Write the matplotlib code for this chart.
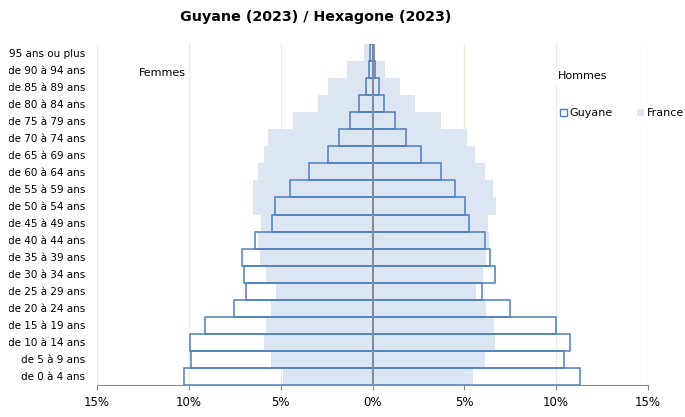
import matplotlib
matplotlib.use("Agg")
import matplotlib.pyplot as plt
from matplotlib.patches import Patch, Rectangle
import numpy as np

categories = ["de 0 à 4 ans", "de 5 à 9 ans", "de 10 à 14 ans", "de 15 à 19 ans",
              "de 20 à 24 ans", "de 25 à 29 ans", "de 30 à 34 ans", "de 35 à 39 ans",
              "de 40 à 44 ans", "de 45 à 49 ans", "de 50 à 54 ans", "de 55 à 59 ans",
              "de 60 à 64 ans", "de 65 à 69 ans", "de 70 à 74 ans", "de 75 à 79 ans",
              "de 80 à 84 ans", "de 85 à 89 ans", "de 90 à 94 ans", "95 ans ou plus"]

guyane_femmes = [10.27, 9.87, 9.91, 9.13, 7.55, 6.88, 7.02, 7.11, 6.42, 5.46,
                 5.30, 4.50, 3.45, 2.43, 1.82, 1.20, 0.73, 0.36, 0.17, 0.15]
france_femmes = [4.88, 5.50, 5.91, 5.82, 5.50, 5.28, 5.82, 6.10, 6.24, 6.06,
                 6.48, 6.48, 6.21, 5.91, 5.68, 4.32, 2.99, 2.41, 1.41, 0.47]
guyane_hommes = [11.30, 10.45, 10.76, 9.98, 7.48, 5.98, 6.65, 6.38, 6.10, 5.25,
                 5.04, 4.47, 3.73, 2.63, 1.85, 1.20, 0.63, 0.33, 0.11, 0.07]
france_hommes = [5.49, 6.14, 6.67, 6.63, 6.18, 5.63, 6.01, 6.16, 6.36, 6.30,
                 6.74, 6.58, 6.14, 5.56, 5.16, 3.75, 2.30, 1.50, 0.67, 0.15]

xticks = [-15, -10, -5, 0, 5, 10, 15]
xticklabels = ["15%", "10%", "5%", "0%", "5%", "10%", "15%"]

W, H = 685, 417
fig = plt.figure(figsize=(W/100, H/100), dpi=100)
ax = fig.add_axes([97/W, 1 - 385/H, (648-97)/W, (385-44)/H])

y = np.arange(len(categories))
france_col = "#DCE6F2"
guy_col = "#4F7EC0"
grid_col = "#EDEAE0"

for xv in [-15, -10, -5, 5, 10, 15]:
    ax.axvline(xv, color=grid_col, lw=1, zorder=0)

ax.barh(y, [-v for v in france_femmes], height=1.0, color=france_col, lw=0, zorder=1)
ax.barh(y, france_hommes, height=1.0, color=france_col, lw=0, zorder=1)
ax.barh(y, [-v for v in guyane_femmes], height=1.0, facecolor="none",
        edgecolor=guy_col, lw=1.1, zorder=2)
ax.barh(y, guyane_hommes, height=1.0, facecolor="none",
        edgecolor=guy_col, lw=1.1, zorder=2)

ax.axvline(0, color="#8C8C8C", lw=1.2, zorder=3)

ax.set_xlim(-15, 15)
ax.set_ylim(-0.5, len(categories) - 0.5)
ax.set_xticks(xticks)
ax.set_xticklabels(xticklabels, fontsize=8.5)
ax.set_yticks(y)
ax.set_yticklabels(categories, fontsize=7.5)
ax.tick_params(axis="y", length=0, pad=8.4)
ax.tick_params(axis="x", length=3.5, color="#8C8C8C", pad=4.5)
for s in ["top", "right", "left"]:
    ax.spines[s].set_visible(False)
ax.spines["bottom"].set_color("#8C8C8C")

fig.text(316/W, 1 - 17/H, "Guyane (2023) / Hexagone (2023)", ha="center", va="center",
         fontsize=10.3, fontweight="bold")

ax.text(-11.43, 17.8, "Femmes", fontsize=8, ha="center", va="center", zorder=4)
ax.text(11.43, 17.62, "Hommes", fontsize=8, ha="center", va="center", zorder=4,
        bbox=dict(facecolor="white", edgecolor="none", pad=3))

handles = [Patch(facecolor="white", edgecolor=guy_col, lw=1, label="Guyane"),
           Patch(facecolor=france_col, edgecolor="none", label="France")]
leg = fig.legend(handles=handles, loc="center left", bbox_to_anchor=(557/W, 1 - 113/H),
                 ncol=2, frameon=True, fontsize=8,
                 handlelength=0.6, handleheight=0.6, handletextpad=0.25, columnspacing=2.2,
                 borderpad=0.3, borderaxespad=0, fancybox=False)
leg.get_frame().set_edgecolor("none")
leg.get_frame().set_facecolor("white")
leg.get_frame().set_alpha(1)
leg.set_zorder(5)

# the reference crops its leftmost label pixels
fig.add_artist(Rectangle((0, 0), 8.5/W, 1, transform=fig.transFigure,
                         facecolor="white", edgecolor="none", zorder=10))

fig.savefig("out.png", dpi=100)
